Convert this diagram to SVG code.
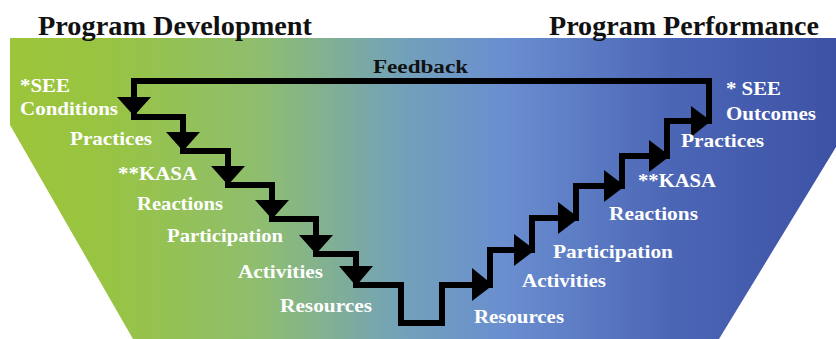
<svg xmlns="http://www.w3.org/2000/svg" width="836" height="339" viewBox="0 0 836 339">
  <defs>
    <linearGradient id="bg" x1="10" y1="0" x2="836" y2="0" gradientUnits="userSpaceOnUse">
      <stop offset="0" stop-color="#9dc53a"/>
      <stop offset="0.12" stop-color="#98c443"/>
      <stop offset="0.3" stop-color="#8fbe6e"/>
      <stop offset="0.47" stop-color="#73a2b8"/>
      <stop offset="0.6" stop-color="#6a8ed0"/>
      <stop offset="0.8" stop-color="#4c66b6"/>
      <stop offset="1" stop-color="#3d52a5"/>
    </linearGradient>
    <style>
      .title { font-family: "Times New Roman", "Liberation Serif", serif; font-weight: bold; font-size: 27px; fill: #111111; }
      .fb { font-family: "Times New Roman", "Liberation Serif", serif; font-weight: bold; font-size: 18px; fill: #111111; }
      .lbl { font-family: "Times New Roman", "Liberation Serif", serif; font-weight: bold; font-size: 19px; fill: #ffffff; }
      .line { fill: none; stroke: #000000; stroke-width: 6; stroke-linejoin: miter; stroke-linecap: square; }
      .ah { fill: #000000; }
    </style>
  </defs>

  <rect width="836" height="339" fill="#ffffff"/>

  <g id="background">
    <polygon points="10,38 836,38 836,147 719,339 133,339 10,125" fill="url(#bg)"/>
  </g>

  <g id="titles">
    <text class="title" x="38" y="35" textLength="274" lengthAdjust="spacingAndGlyphs">Program Development</text>
    <text class="title" x="549" y="35" textLength="270" lengthAdjust="spacingAndGlyphs">Program Performance</text>
  </g>

  <g id="connectors">
    <polyline class="line" points="134,117 134,81 709,81 709,121"/>
    <polyline class="line" points="134,117 183,117 183,151 228,151 228,185 272,185 272,219 316,219 316,254 356,254 356,285 401,285 401,323 442,323 442,285 490,285 490,250 532,250 532,218 576,218 576,186 622,186 622,156 667,156 667,121 709,121"/>
    <polygon class="ah" points="117,97 151,97 134,116"/>
    <polygon class="ah" points="166,132 200,132 183,151"/>
    <polygon class="ah" points="211,166 245,166 228,185"/>
    <polygon class="ah" points="255,200 289,200 272,219"/>
    <polygon class="ah" points="299,235 333,235 316,254"/>
    <polygon class="ah" points="339,266 373,266 356,286"/>
    <polygon class="ah" points="472,268 472,301 493,285"/>
    <polygon class="ah" points="514,234 514,266 535,250"/>
    <polygon class="ah" points="558,202 558,234 579,218"/>
    <polygon class="ah" points="604,170 604,202 625,186"/>
    <polygon class="ah" points="649,140 649,172 670,156"/>
    <polygon class="ah" points="691,106 691,137 711,121"/>
  </g>

  <g id="feedback-label">
    <text class="fb" x="373" y="73" textLength="95" lengthAdjust="spacingAndGlyphs">Feedback</text>
  </g>

  <g id="left-labels">
    <text class="lbl" x="20" y="92" textLength="50" lengthAdjust="spacingAndGlyphs">*SEE</text>
    <text class="lbl" x="20" y="115" textLength="98" lengthAdjust="spacingAndGlyphs">Conditions</text>
    <text class="lbl" x="70" y="145" textLength="82" lengthAdjust="spacingAndGlyphs">Practices</text>
    <text class="lbl" x="118" y="180" textLength="79" lengthAdjust="spacingAndGlyphs">**KASA</text>
    <text class="lbl" x="137" y="210" textLength="86" lengthAdjust="spacingAndGlyphs">Reactions</text>
    <text class="lbl" x="167" y="242" textLength="116" lengthAdjust="spacingAndGlyphs">Participation</text>
    <text class="lbl" x="238" y="278" textLength="85" lengthAdjust="spacingAndGlyphs">Activities</text>
    <text class="lbl" x="280" y="312" textLength="92" lengthAdjust="spacingAndGlyphs">Resources</text>
  </g>

  <g id="right-labels">
    <text class="lbl" x="726" y="95" textLength="55" lengthAdjust="spacingAndGlyphs">* SEE</text>
    <text class="lbl" x="726" y="120" textLength="90" lengthAdjust="spacingAndGlyphs">Outcomes</text>
    <text class="lbl" x="681" y="147" textLength="83" lengthAdjust="spacingAndGlyphs">Practices</text>
    <text class="lbl" x="638" y="187" textLength="78" lengthAdjust="spacingAndGlyphs">**KASA</text>
    <text class="lbl" x="609" y="220" textLength="89" lengthAdjust="spacingAndGlyphs">Reactions</text>
    <text class="lbl" x="553" y="258" textLength="120" lengthAdjust="spacingAndGlyphs">Participation</text>
    <text class="lbl" x="522" y="287" textLength="84" lengthAdjust="spacingAndGlyphs">Activities</text>
    <text class="lbl" x="474" y="323" textLength="90" lengthAdjust="spacingAndGlyphs">Resources</text>
  </g>
</svg>
